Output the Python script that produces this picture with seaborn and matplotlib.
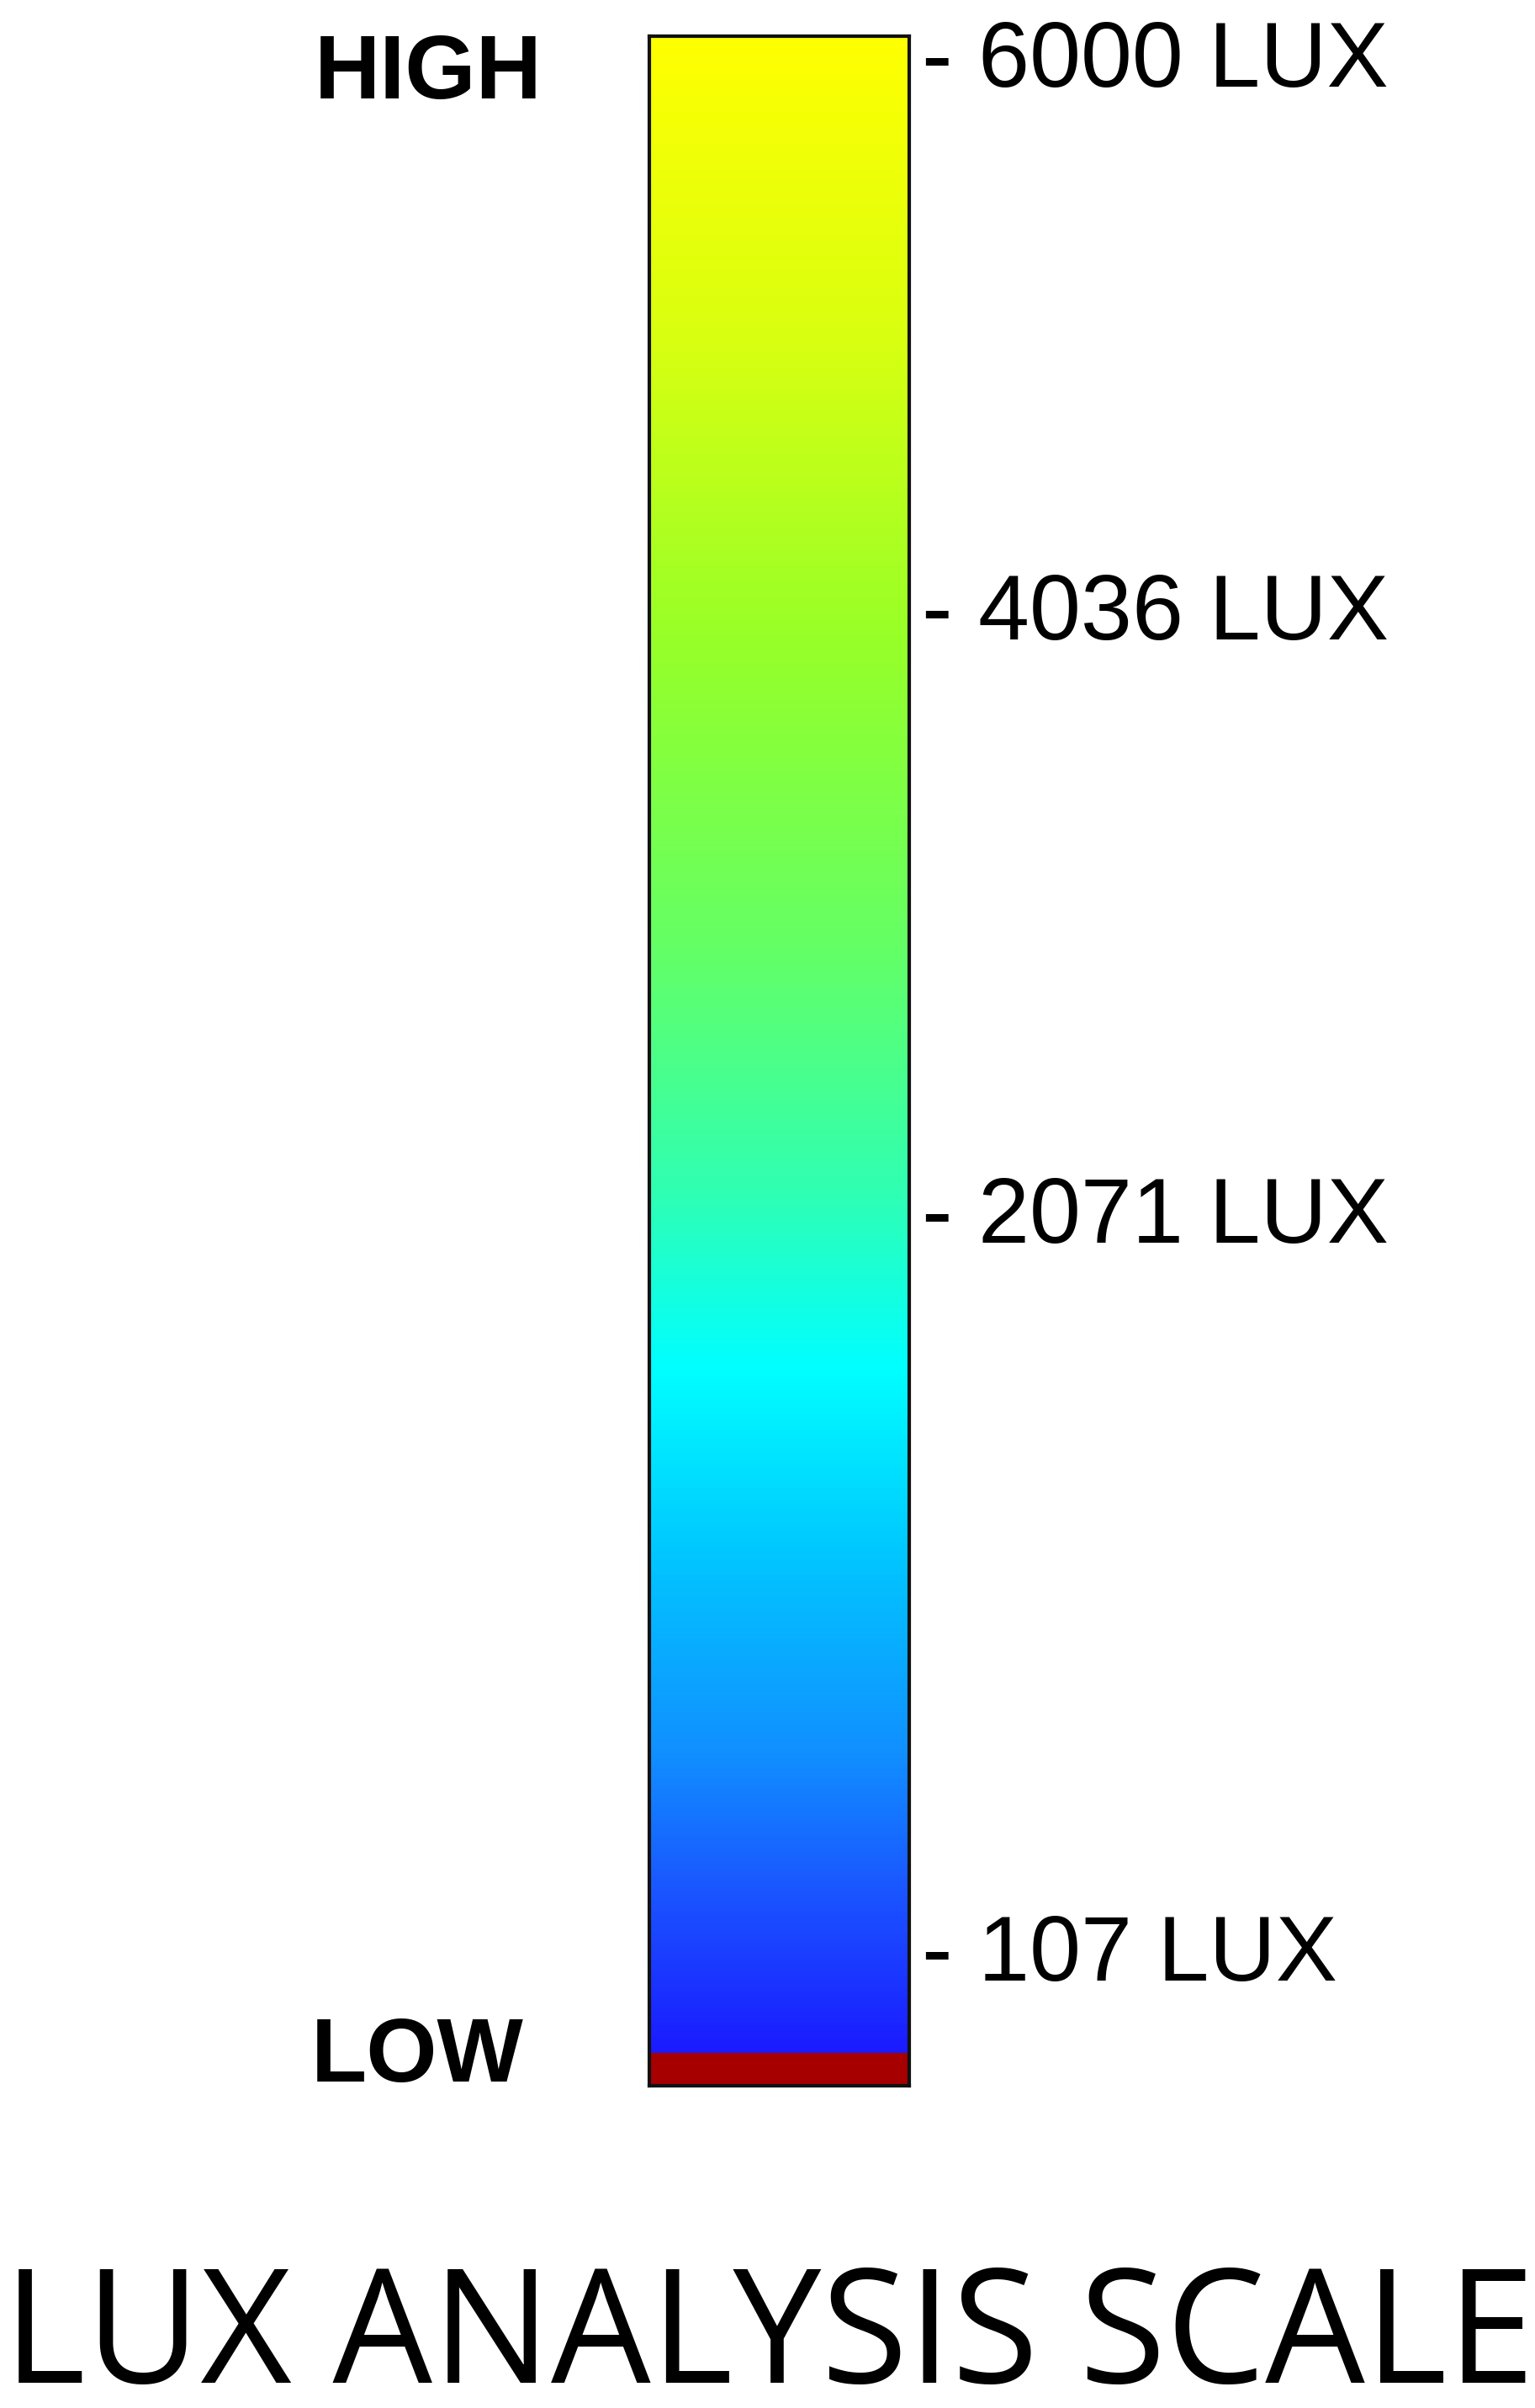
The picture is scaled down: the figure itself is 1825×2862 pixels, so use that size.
import matplotlib as mpl
mpl.use("Agg")
import matplotlib.pyplot as plt
import numpy as np
import pandas as pd
import seaborn as sns
from matplotlib.colors import LinearSegmentedColormap

# colour stops of the scale, top (0) to bottom (1) of the gradient part
stop_pos = [0.00, 0.15, 0.30, 0.45, 0.57, 0.66, 0.75, 0.85, 0.92, 1.00]
stop_colors = ["#ffff00", "#d8ff10", "#96ff28", "#64ff64", "#30ffb0",
               "#00ffff", "#00c8ff", "#1090ff", "#1a55ff", "#1a1aff"]
band_color = "#a60000"   # the low band at the foot of the bar
band_share = 0.016

tick_labels = ["- 6000 LUX", "- 4036 LUX", "- 2071 LUX", "- 107 LUX"]
tick_pos = [0.0086, 0.278, 0.5725, 0.9326]   # share of bar height from the top

n_rows = 2436
n_band = int(round(n_rows * band_share))
levels = np.concatenate([np.linspace(0, 1, n_rows - n_band), -np.ones(n_band)])
df = pd.DataFrame({"level": levels})

cmap = LinearSegmentedColormap.from_list("lux", list(zip(stop_pos, stop_colors)), N=1024)
cmap.set_under(band_color)

sns.set_theme(style="white")
plt.rcParams["font.family"] = ["Liberation Sans", "DejaVu Sans"]
plt.rcParams["text.color"] = "black"

fig = plt.figure(figsize=(18.25, 28.62), dpi=100)
ax = fig.add_axes([772 / 1825, 1 - 2479 / 2862, 309 / 1825, 2436 / 2862])
sns.heatmap(df, ax=ax, cmap=cmap, vmin=0, vmax=1, cbar=False,
            xticklabels=False, yticklabels=False, linewidths=0, rasterized=True)

for s in ax.spines.values():
    s.set_visible(True)
    s.set_color("#111111")
    s.set_linewidth(3)

ax.yaxis.tick_right()
ax.set_yticks([p * n_rows for p in tick_pos])
ax.set_yticklabels(tick_labels, fontsize=79, color="black")
ax.tick_params(axis="y", length=0, pad=11)
ax.set_xlabel("")
ax.set_ylabel("")

fig.text(374 / 1825, 1 - 117 / 2862, "HIGH", fontsize=78, fontweight="bold",
         color="black", ha="left", va="baseline")
fig.text(370 / 1825, 1 - 2474 / 2862, "LOW", fontsize=78, fontweight="bold",
         color="black", ha="left", va="baseline")
fig.text(914 / 1825, 1 - 2832 / 2862, "LUX ANALYSIS SCALE", fontsize=135,
         family=["Open Sans", "DejaVu Sans"], color="black", ha="center", va="baseline")

fig.savefig("out.png", dpi=100, facecolor="white")
